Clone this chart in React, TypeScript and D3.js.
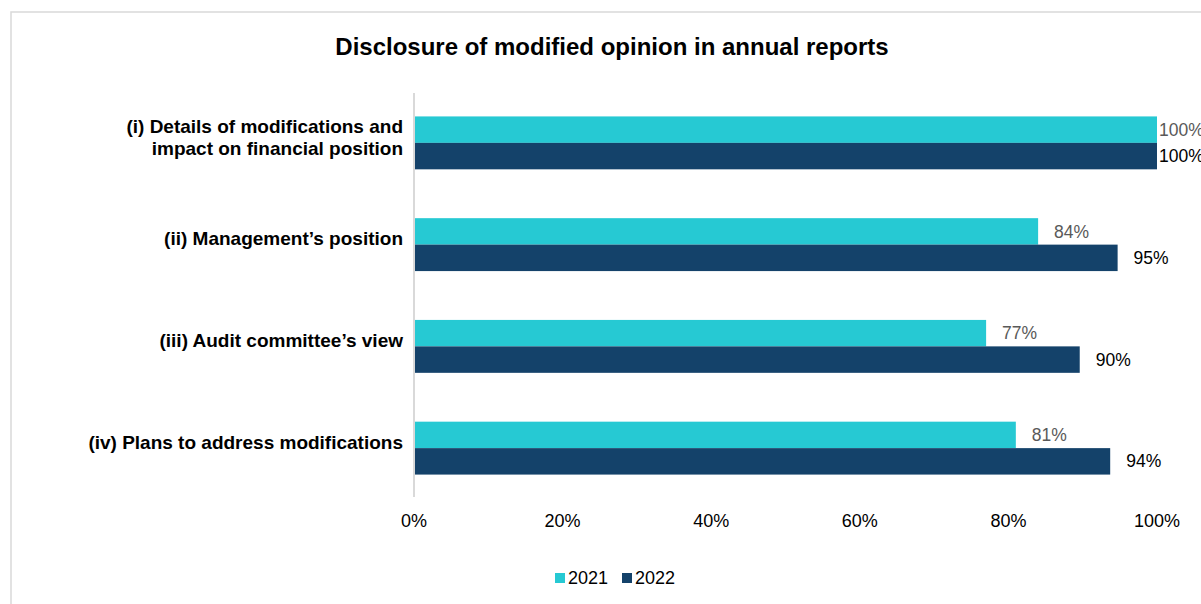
import React from "react";
import * as d3 from "d3";

const categories = [
  ["(i) Details of modifications and", "impact on financial position"],
  ["(ii) Management\u2019s position"],
  ["(iii) Audit committee\u2019s view"],
  ["(iv) Plans to address modifications"],
];
const categoryKeys = ["i", "ii", "iii", "iv"];
const series2021 = [100, 84, 77, 81];
const series2022 = [100, 94.7, 89.6, 93.7];
const seriesNames = ["2021", "2022"];
const ticks = [0, 20, 40, 60, 80, 100];

const W = 1201;
const H = 604;
const COLORS = ["#26C9D3", "#14426A"];
const LABEL_COLORS = ["#595959", "#000000"];
const FONT = "'Liberation Sans', Arial, sans-serif";

export default function App() {
  const x = d3.scaleLinear().domain([0, 100]).range([414, 1157]);
  const y = d3.scaleBand().domain(categoryKeys).range([92, 499]).paddingInner(0.48).paddingOuter(0.24);
  const sub = d3.scaleBand().domain(seriesNames).range([0, y.bandwidth()]);
  const values = [series2021, series2022];

  return (
    <svg width={W} height={H} style={{ position: "absolute", left: 0, top: 0, background: "#fff" }} fontFamily={FONT}>
      <rect x={11} y={12} width={W + 20} height={H + 20} fill="#fff" stroke="#d9d9d9" strokeWidth={1.5} />
      <text x={612} y={47} dy="0.35em" textAnchor="middle" fontSize={24} fontWeight="bold" fill="#000">
        Disclosure of modified opinion in annual reports
      </text>
      {/* bars */}
      {categoryKeys.map((k, i) =>
        seriesNames.map((s, j) => {
          const v = values[j][i];
          const y0 = (y(k) as number) + (sub(s) as number);
          const xe = x(v);
          const lx = Math.min(xe + 16, x(100) + 2);
          return (
            <g key={k + s}>
              <rect x={x(0)} y={y0} width={xe - x(0)} height={sub.bandwidth()} fill={COLORS[j]} />
              <text x={lx} y={y0 + sub.bandwidth() / 2} dy="0.35em" fontSize={17.5} fill={LABEL_COLORS[j]}>
                {Math.round(v)}%
              </text>
            </g>
          );
        })
      )}
      {/* axis line */}
      <line x1={x(0)} x2={x(0)} y1={93} y2={497} stroke="#d9d9d9" strokeWidth={2} />
      {/* category labels */}
      {categoryKeys.map((k, i) => {
        const lines = categories[i];
        const cy = (y(k) as number) + y.bandwidth() / 2 - 6;
        const lh = 22;
        return (
          <text key={k} x={403} textAnchor="end" fontSize={19} fontWeight="bold" fill="#000">
            {lines.map((ln, li) => (
              <tspan key={li} x={403} y={cy + (li - (lines.length - 1) / 2) * lh} dy="0.35em">
                {ln}
              </tspan>
            ))}
          </text>
        );
      })}
      {/* x tick labels */}
      {ticks.map((t) => (
        <text key={t} x={x(t)} y={521} dy="0.35em" textAnchor="middle" fontSize={18} fill="#000">
          {t}%
        </text>
      ))}
      {/* legend */}
      {seriesNames.map((s, j) => {
        const lx = 555 + j * 67;
        return (
          <g key={s}>
            <rect x={lx} y={573} width={10} height={10} fill={COLORS[j]} />
            <text x={lx + 13} y={578} dy="0.35em" fontSize={18} fill="#000">
              {s}
            </text>
          </g>
        );
      })}
    </svg>
  );
}
